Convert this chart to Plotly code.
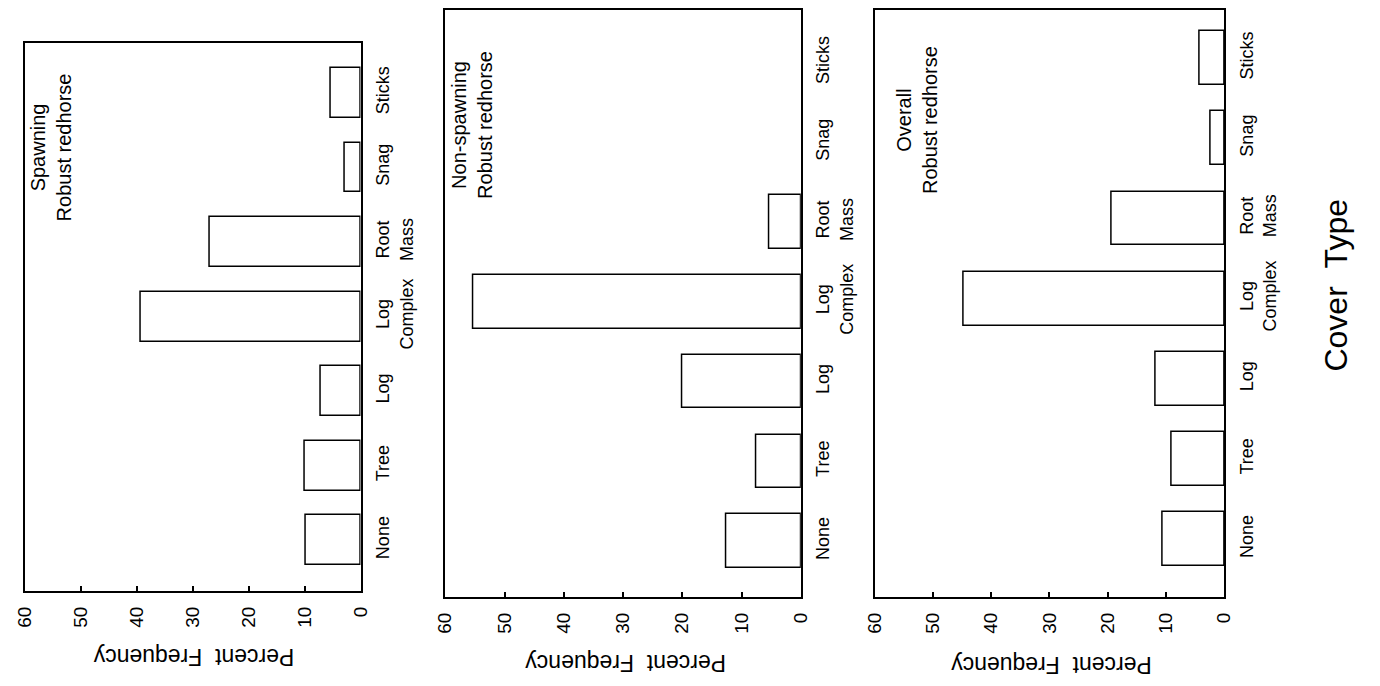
import plotly.graph_objects as go

# Cover types (bottom to top along the category axis)
categories = ["None", "Tree", "Log", "Log Complex", "Root Mass", "Snag", "Sticks"]
category_labels = ["None", "Tree", "Log", "Log<br>Complex", "Root<br>Mass", "Snag", "Sticks"]

# Percent frequency of cover use by robust redhorse
spawning = [9.8, 9.9, 7.2, 39.2, 27.0, 2.8, 5.4]
non_spawning = [12.5, 7.5, 20.0, 55.3, 5.3, 0.0, 0.0]
overall = [10.6, 9.1, 11.8, 44.8, 19.3, 2.4, 4.2]

panel_titles = ["Spawning<br>Robust redhorse",
                "Non-spawning<br>Robust redhorse",
                "Overall<br>Robust redhorse"]
value_ticks = [0, 10, 20, 30, 40, 50, 60]

W, H = 1380, 686
FONT = "Liberation Sans, Arial, sans-serif"

# panel boxes in pixels: (left, right, top, bottom), category range
panels = [
    ((14, 355, 43, 591), (-0.68, 6.67)),
    ((441, 802, 10, 597), (-0.70, 6.66)),
    ((877, 1232, 10, 597), (-0.72, 6.60)),
]
series = [spawning, non_spawning, overall]

fig = go.Figure()
for i, (vals, ((l, r, t, b), yr)) in enumerate(zip(series, panels), start=1):
    xa = "x" if i == 1 else f"x{i}"
    ya = "y" if i == 1 else f"y{i}"
    # empty categories get no outline
    outline = [1.5 if v > 0 else 0 for v in vals]
    fig.add_trace(go.Bar(
        x=vals, y=list(range(len(categories))), orientation="h",
        width=0.67, xaxis=xa, yaxis=ya,
        marker=dict(color="white", line=dict(color="black", width=outline)),
        hovertext=categories, showlegend=False,
    ))
    xkey = "xaxis" if i == 1 else f"xaxis{i}"
    ykey = "yaxis" if i == 1 else f"yaxis{i}"
    fig.layout[xkey] = dict(
        domain=[l / W, r / W], anchor=ya, range=[60, 0],
        tickvals=value_ticks, ticktext=[str(v) for v in value_ticks],
        tickangle=-90, ticks="inside", ticklen=5, tickwidth=1.5, tickcolor="black",
        ticklabelstandoff=6,
        showline=True, linecolor="black", linewidth=2, mirror=True,
        showgrid=False, zeroline=False,
        tickfont=dict(family=FONT, size=19, color="black"),
    )
    fig.layout[ykey] = dict(
        domain=[1 - b / H, 1 - t / H], anchor=xa, range=list(yr),
        side="right", tickvals=list(range(len(categories))), ticktext=category_labels,
        tickangle=-90, ticks="", ticklabelstandoff=5,
        showline=True, linecolor="black", linewidth=2, mirror=True,
        showgrid=False, zeroline=False,
        tickfont=dict(family=FONT, size=18, color="black"),
    )

annotations = []
# panel titles
for (cx, cy), text in zip([(41, 147), (468, 125), (920, 120)], panel_titles):
    annotations.append(dict(x=cx / W, y=1 - cy / H, xref="paper", yref="paper",
                            text=text, showarrow=False, textangle=-90,
                            xanchor="center", yanchor="middle",
                            font=dict(family=FONT, size=20, color="black")))
# value-axis titles (upside down)
for cx, cy in [(186, 657), (624, 663), (1056, 665)]:
    annotations.append(dict(x=cx / W, y=1 - cy / H, xref="paper", yref="paper",
                            text="Percent\u00a0\u00a0Frequency", showarrow=False,
                            textangle=180, xanchor="center", yanchor="middle",
                            font=dict(family=FONT, size=23, color="black")))
# category-axis title
annotations.append(dict(x=1345 / W, y=1 - 285 / H, xref="paper", yref="paper",
                        text="Cover\u00a0\u00a0Type", showarrow=False, textangle=-90,
                        xanchor="center", yanchor="middle",
                        font=dict(family=FONT, size=32, color="black")))

fig.update_layout(
    width=W, height=H, margin=dict(l=0, r=0, t=0, b=0),
    paper_bgcolor="white", plot_bgcolor="white",
    annotations=annotations, bargap=0,
)

fig.write_html("out.html")
